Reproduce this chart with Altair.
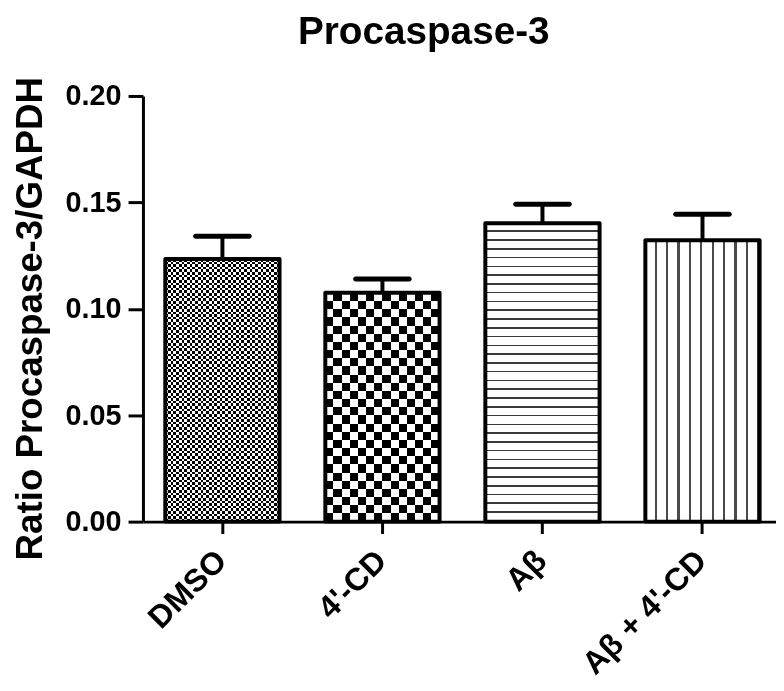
import altair as alt
import pandas as pd

# ---- data ----
groups = ["DMSO", "4'-CD", "Aβ", "Aβ + 4'-CD"]
means = [0.1234, 0.1075, 0.1402, 0.1322]
sems = [0.0107, 0.0065, 0.0089, 0.0122]

y_ticks = [0.0, 0.05, 0.10, 0.15, 0.20]

df = pd.DataFrame({"group": groups, "mean": means, "sem": sems})
df["upper"] = df["mean"] + df["sem"]

W, H = 638, 429
YMAX = 0.2
FONT = "Liberation Sans"


def stripes(n, on, off, frac, vertical_lines):
    """Hard-edged linear gradient: n periods, 'on' colour fills frac of each period."""
    stops = []
    for i in range(n):
        a = i / n
        b = (i + frac) / n
        c = (i + 1) / n
        stops += [
            {"offset": a, "color": on},
            {"offset": b, "color": on},
            {"offset": b, "color": off},
            {"offset": c, "color": off},
        ]
    if vertical_lines:
        return {"gradient": "linear", "x1": 0, "y1": 0, "x2": 1, "y2": 0, "stops": stops}
    return {"gradient": "linear", "x1": 0, "y1": 0, "x2": 0, "y2": 1, "stops": stops}


def px_height(v):
    return v / YMAX * H


xenc = alt.X(
    "group:N",
    sort=groups,
    scale=alt.Scale(paddingInner=0.286, paddingOuter=0.121, align=0.577),
    axis=alt.Axis(
        title=None,
        labelAngle=-45,
        labelAlign="right",
        labelBaseline="middle",
        labelFont=FONT,
        labelFontWeight="bold",
        labelFontSize=32,
        labelColor="black",
        labelPadding=22,
        labelOffset=-1,
        domainColor="black",
        domainWidth=3,
        tickColor="black",
        tickWidth=3,
        tickSize=12,
        grid=False,
    ),
)


def yenc(field):
    return alt.Y(
        f"{field}:Q",
        scale=alt.Scale(domain=[0, YMAX]),
        axis=alt.Axis(
            title="Ratio Procaspase-3/GAPDH",
            titleFont=FONT,
            titleFontWeight="bold",
            titleFontSize=37,
            titleColor="black",
            titleAngle=-90,
            titleX=-102,
            titleY=224,
            titleAlign="center",
            titleBaseline="alphabetic",
            values=y_ticks,
            format=".2f",
            labelFont=FONT,
            labelFontWeight="bold",
            labelFontSize=29,
            labelColor="black",
            labelPadding=7,
            domainColor="black",
            domainWidth=3,
            tickColor="black",
            tickWidth=3,
            tickSize=15,
            grid=False,
        ),
    )


base = alt.Chart(df)
layers = []

# error bars (upper half only, as in the reference)
layers.append(
    base.mark_rule(color="black", strokeWidth=4).encode(x=xenc, y=yenc("mean"), y2="upper:Q")
)
layers.append(
    base.mark_tick(color="black", orient="horizontal", size=59, thickness=5, cornerRadius=2.5, opacity=1).encode(
        x=xenc, y=yenc("upper")
    )
)

# DMSO: fine checker
h0 = px_height(means[0])
layers.append(
    base.transform_filter(alt.datum.group == groups[0])
    .mark_bar(fill=stripes(21, "black", "white", 0.5, True), strokeWidth=0)
    .encode(x=xenc, y=yenc("mean"))
)
layers.append(
    base.transform_filter(alt.datum.group == groups[0])
    .mark_bar(fill=stripes(round(h0 / 5.3), "white", "rgba(255,255,255,0)", 0.5, False), strokeWidth=0, blend="difference")
    .encode(x=xenc, y=yenc("mean"))
)

# 4'-CD: coarse checker
h1 = px_height(means[1])
layers.append(
    base.transform_filter(alt.datum.group == groups[1])
    .mark_bar(fill=stripes(7, "black", "white", 0.5, True), strokeWidth=0)
    .encode(x=xenc, y=yenc("mean"))
)
layers.append(
    base.transform_filter(alt.datum.group == groups[1])
    .mark_bar(fill=stripes(round(h1 / 16.4), "white", "rgba(255,255,255,0)", 0.5, False), strokeWidth=0, blend="difference")
    .encode(x=xenc, y=yenc("mean"))
)

# Aβ: horizontal lines
h2 = px_height(means[2])
layers.append(
    base.transform_filter(alt.datum.group == groups[2])
    .mark_bar(fill=stripes(round(h2 / 8.8), "white", "#3a3a3a", 0.82, False), strokeWidth=0)
    .encode(x=xenc, y=yenc("mean"))
)

# Aβ + 4'-CD: vertical lines
layers.append(
    base.transform_filter(alt.datum.group == groups[3])
    .mark_bar(fill=stripes(10, "white", "#4a4a4a", 0.8, True), strokeWidth=0)
    .encode(x=xenc, y=yenc("mean"))
)

# outlines
layers.append(
    base.mark_bar(fill="white", fillOpacity=0, stroke="black", strokeWidth=4, strokeJoin="round").encode(
        x=xenc, y=yenc("mean")
    )
)

chart = (
    alt.layer(*layers)
    .properties(
        width=W,
        height=H,
        view=alt.ViewBackground(stroke="white", strokeWidth=0, strokeOpacity=0),
        title=alt.TitleParams(
            "Procaspase-3",
            font=FONT,
            fontWeight="bold",
            fontSize=39,
            color="black",
            anchor="middle",
            dx=-36,
            offset=25,
        ),
        autosize=alt.AutoSizeParams(type="none"),
        padding={"left": 136, "top": 86, "right": 0, "bottom": 160},
    )
    .configure_view(strokeWidth=0, stroke="white", strokeOpacity=0)
    .configure_axis(grid=False)
    .configure(background="white")
)

chart.save("out.html", embed_options={"renderer": "svg", "actions": False})
